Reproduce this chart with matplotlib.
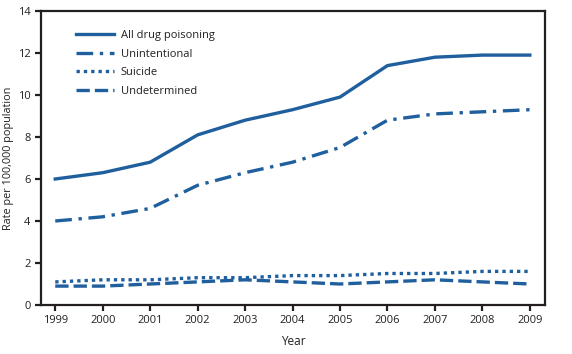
import matplotlib
matplotlib.use("Agg")
import matplotlib.pyplot as plt

years = [1999, 2000, 2001, 2002, 2003, 2004, 2005, 2006, 2007, 2008, 2009]
all_drug = [6.0, 6.3, 6.8, 8.1, 8.8, 9.3, 9.9, 11.4, 11.8, 11.9, 11.9]
unintentional = [4.0, 4.2, 4.6, 5.7, 6.3, 6.8, 7.5, 8.8, 9.1, 9.2, 9.3]
suicide = [1.1, 1.2, 1.2, 1.3, 1.3, 1.4, 1.4, 1.5, 1.5, 1.6, 1.6]
undetermined = [0.9, 0.9, 1.0, 1.1, 1.2, 1.1, 1.0, 1.1, 1.2, 1.1, 1.0]

plt.rcParams['font.family'] = ['Open Sans', 'DejaVu Sans']
blue = '#1f5f9e'
dark = '#231f20'

fig = plt.figure(figsize=(5.72, 3.54), dpi=100)
ax = fig.add_axes([41/572, 1 - 305/354, (545-41)/572, (305-11)/354])

lw = 2.4
ax.plot(years, all_drug, color=blue, lw=lw, ls='-', label='All drug poisoning')
ax.plot(years, unintentional, color=blue, lw=lw, ls=(0, (5, 2, 1, 2)), label='Unintentional')
ax.plot(years, suicide, color=blue, lw=lw, ls=(0, (1, 1.2)), label='Suicide')
ax.plot(years, undetermined, color=blue, lw=lw, ls=(0, (4, 1.5)), label='Undetermined')

ax.set_xlim(1998.7, 2009.32)
ax.set_ylim(0, 14)
ax.set_xticks(years)
ax.set_yticks(range(0, 15, 2))

for s in ax.spines.values():
    s.set_color(dark)
    s.set_linewidth(1.6)
ax.tick_params(direction='out', length=4, width=1.6, color=dark, labelsize=8, labelcolor=dark)

ax.set_xlabel('Year', fontsize=8.5, color=dark, labelpad=6)
ax.set_ylabel('Rate per 100,000 population', fontsize=7.8, color=dark, labelpad=3)

leg = ax.legend(loc='upper left', bbox_to_anchor=(0.05, 0.97), frameon=False, fontsize=8,
                handlelength=3.4, handletextpad=0.6, labelspacing=0.7)
for t in leg.get_texts():
    t.set_color(dark)

fig.savefig('out.png', dpi=100)
